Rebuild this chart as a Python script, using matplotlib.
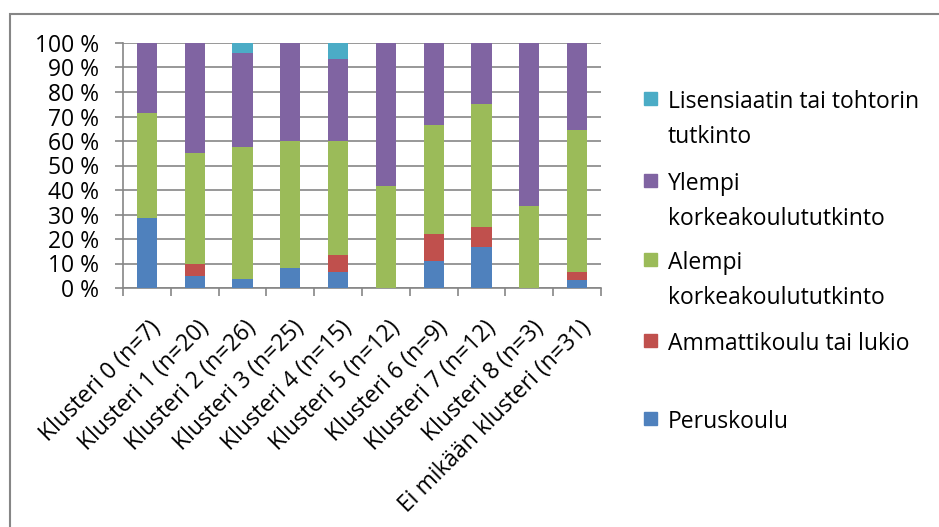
import matplotlib
matplotlib.use("Agg")
import matplotlib.pyplot as plt
import numpy as np
from matplotlib.patches import Rectangle
from matplotlib.ticker import FixedLocator
from matplotlib.transforms import ScaledTranslation

plt.rcParams["font.family"] = ["Open Sans", "DejaVu Sans"]
FS = 16.5

categories = ["Klusteri 0 (n=7)", "Klusteri 1 (n=20)", "Klusteri 2 (n=26)",
              "Klusteri 3 (n=25)", "Klusteri 4 (n=15)", "Klusteri 5 (n=12)",
              "Klusteri 6 (n=9)", "Klusteri 7 (n=12)", "Klusteri 8 (n=3)",
              "Ei mikään klusteri (n=31)"]

# share of each education level per cluster, percent (bottom to top)
peruskoulu = [28.6, 5.0, 3.8, 8.0, 6.7, 0.0, 11.1, 16.7, 0.0, 3.2]
ammattikoulu = [0.0, 5.0, 0.0, 0.0, 6.7, 0.0, 11.1, 8.3, 0.0, 3.2]
alempi = [42.9, 45.0, 53.8, 52.0, 46.7, 41.7, 44.4, 50.0, 33.3, 58.1]
ylempi = [28.6, 45.0, 38.5, 40.0, 33.3, 58.3, 33.3, 25.0, 66.7, 35.5]
lisensiaatti = [0.0, 0.0, 3.8, 0.0, 6.7, 0.0, 0.0, 0.0, 0.0, 0.0]

series = [
    ("Peruskoulu", peruskoulu, "#4F81BD"),
    ("Ammattikoulu tai lukio", ammattikoulu, "#C0504D"),
    ("Alempi\nkorkeakoulututkinto", alempi, "#9BBB59"),
    ("Ylempi\nkorkeakoulututkinto", ylempi, "#8064A2"),
    ("Lisensiaatin tai tohtorin\ntutkinto", lisensiaatti, "#4BACC6"),
]

W, H = 939, 527
fig = plt.figure(figsize=(W / 100, H / 100), dpi=100)
ax = fig.add_axes([123 / W, 1 - 288 / H, 478 / W, 245 / H])

grid = "#868686"
x = np.arange(len(categories))
bottom = np.zeros(len(categories))
for label, vals, color in series:
    vals = np.array(vals)
    ax.bar(x, vals, 0.42, bottom=bottom, color=color, zorder=3)
    bottom += vals

ax.set_xlim(-0.5, len(categories) - 0.5)
ax.set_ylim(0, 100)
ax.set_yticks(np.arange(0, 101, 10))
ax.set_yticklabels([f"{v} %" for v in range(0, 101, 10)], fontsize=FS)
ax.yaxis.grid(True, color=grid, lw=1.2, zorder=0)
ax.tick_params(axis="y", length=6, width=1.2, color=grid, pad=11)

ax.set_xticks(x)
ax.set_xticklabels(categories, rotation=45, ha="right", va="top",
                   rotation_mode="anchor", fontsize=FS)
ax.tick_params(axis="x", which="major", length=0, pad=20)
shift = ScaledTranslation(2 / 100, 0, fig.dpi_scale_trans)
for lbl in ax.get_xticklabels():
    lbl.set_transform(lbl.get_transform() + shift)
ax.xaxis.set_minor_locator(FixedLocator(np.arange(-0.5, len(categories), 1)))
ax.tick_params(axis="x", which="minor", length=6, width=1.2, color=grid)

for side in ("top", "right"):
    ax.spines[side].set_visible(False)
for side in ("left", "bottom"):
    ax.spines[side].set_color(grid)
    ax.spines[side].set_linewidth(1.2)

# legend, top entry first, evenly spaced slots (pixel rows of the swatches)
slot_y = [98, 180, 259, 340, 418]
for (label, _, color), y in zip(series[::-1], slot_y):
    fig.patches.append(Rectangle((644 / W, 1 - (y + 6.5) / H), 13 / W, 13 / H,
                                 transform=fig.transFigure, color=color))
    fig.text(668 / W, 1 - (y - 8) / H, label, fontsize=FS, va="top",
             linespacing=1.6)

# outer chart frame
fig.patches.append(Rectangle((9.5 / W, -0.1), 1.2, 1 - 14 / H + 0.1,
                             transform=fig.transFigure, fill=False,
                             edgecolor=grid, lw=1.5))

fig.savefig("out.png", dpi=100)
